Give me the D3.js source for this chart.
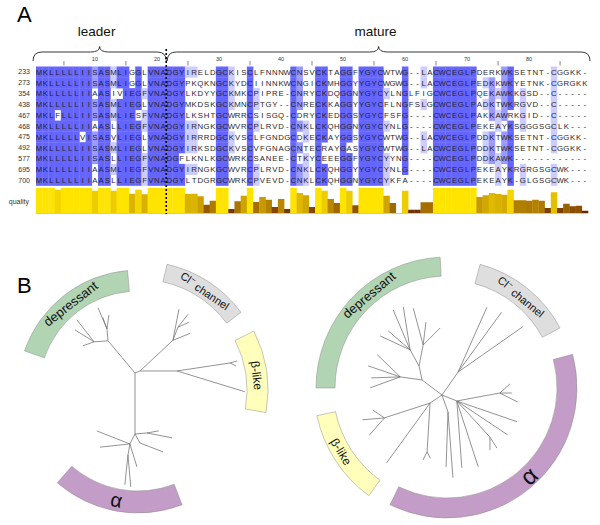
<!DOCTYPE html>
<html><head><meta charset="utf-8">
<script src="https://cdn.jsdelivr.net/npm/d3@7"></script>
<style>body{margin:0;background:#fff}svg{display:block;font-family:"Liberation Sans",Arial,Helvetica,sans-serif}</style>
</head><body><svg id="c" width="600" height="525"></svg>
<script>
// ---------------- DATA ----------------
const seqNames = ["233","273","354","438","467","468","475","492","577","695","700"];
const leaderSeqs = [
 "MKLLLLLIISASMLIGGLVNA","MKLLLLLIISASMLIGGLVNA","MKLLLLLIIAASIVIEGFVNA","MKLLLLLIISASMLIEGLVNA",
 "MKLFLLLIISASMLIESFVNA","MKLLLLLIIAASLLIEGFVNA","MKLLLLLVISASVLIEGLVNA","MKLLLLLIISASMLIEGLVNA",
 "MKLLLLLIISASLLIEGFVNA","MKLLLLLIIAASMLIEGFVNA","MKLLLLLIIAASLLIEGFVNA"];
const matureSeqs = [
 "DGYIRELDGCKISCLFNNNWCNSVCKTAGGFYGYCWTWG--LACWCEGLPDERKWKSETNT-CGGKK-",
 "DGYPKQKNGCKYDCIINNKWCNGICKMHGGYYGYCWGWG--LACWCEGLPEDKKWKYETNK-CGRGKK",
 "DGYLKDYYGCKMKCPIPRE-CNRYCKDQGGNYGYCYLNGLFIGCWCEGLPQEKAWKKGSD--C-----",
 "DGYMKDSKGCKMNCPTGY--CNRECKKAGGYYGYCFLNGFSLGCWCEGLPADKTWKRGVD--C-----",
 "DGYLKSHTGCWRRCSISGQ-CDRYCKEDGGSYGYCFSFG----CWCEGLPAKKAWRKGID--C-----",
 "DGYIRNGKGCWVRCPLRVD-CNKLCKQHGGNYGYCYNLG----CWCEGLPEKEAYKSGGGSGCLK---",
 "DGYIRRRDGCKVSCLFGNDGCDKECKAYGGSYGYCWTWG--LACWCEGLPDDKTWKSETNT-CGGKK-",
 "DGYIRKSDGCKVSCVFGNAGCNTECRAYGASYGYCWTWG--LACWCEGLPDDKTWKSETNT-CGGKK-",
 "DGFLKNLKGCWRKCSANEE-CTKYCEEEGGFYGYCYYNG----CWCEGLPDDKAWK------------",
 "DGYIRNGKGCWVRCPLRVD-CNKLCKQHGGYYGYCYNLG----CWCEGLPEKEAYKRGRGSGCWK---",
 "DGYLTDGRGCWRKCPVEVD-CNKLCKQHGGNYGYCYKFA----CWCEGLPEKEAYK-GLGSGCWK---"];
const rulerLabels = [10,20,30,40,50,60,70,80];
const rulerTicks = [5,15,25,35,45,55,65,75,85];
const quality = [1,1,1,0.93,1,1,1,1,1,0.89,1,1,0.89,1,1,0.77,0.93,0.75,1,1,
 1,1,1,1,0.76,0.77,0.67,0.33,0.49,1,1,0.16,0.47,0.69,1,0.44,0.64,0.53,0.24,0.56,
 0.16,1,0.8,0.71,0.24,1,0.89,0.56,0.4,1,0.89,0.31,1,1,1,1,0.69,0.4,0,0.89,
 0.13,0.13,0.43,0.43,1,1,1,1,1,1,1,0.64,0.71,0.8,0.76,0.73,0.93,0.51,0.51,0.49,
 0.53,0.49,0.2,0.83,0.2,0.37,0.27,0.29,0.09];
const pidThresholds = [40,60,80];
const pidColors = ["#ffffff","#ccccff","#9999ff","#6464ff"];
const pidLevelOverride = {84:1};

// trees: [direction (deg), branch length, children]
const leftTree = [0,0,[
  [-130,42,[
    [-95,12,[[-113,23],[-82,14],[-110,12]]],
    [176,14,[[-128,28],[-148,22.5],[160,12]]]
  ]],
  [-22,5.4,[
    [-43,45,[[-79,31.6],[-69,14,[[-52,16.4],[-24,12]]],[-22,18.4]]],
    [0,37,[[-8.6,53.6,[[-16,7.3],[27,6.7]]],[17,71]]]
  ]],
  [90,61,[
    [-5,12,[[-10,12],[11,25.5]]],
    [61,10.3,[[21,24.7]]],
    [117,11.2,[[-158.5,35.5],[174,30],[100,11.2,[[96,30],[85,32]]],[73,24]]]
  ]]
]];
const rightTree = [0,0,[
  [-143,25,[
    [-172,22,[[160,32],[178,29],[-161,34],[-136,32]]],
    [-102,14.3,[
      [-119,18.4,[[-113,43.5],[-99,43.6],[-155,33],[-139,29]]],
      [-79,21.4,[[-83,23],[-45,24],[-105,38]]]
    ]]
  ]],
  [-55,28,[[-66,71],[-54,74],[-35,79]]],
  [146,14.4,[[126,74],[162,48,[[175,22],[131,23],[-146,14]]],[93.5,49,[[117,9],[63,7]]]]],
  [22,16,[[-10.5,43.7,[[-42,13.5],[26.6,20],[0,12]]],[19,63.5],[33.7,61],[47.5,49,[[57.5,13],[90,13]]],[72,69],[85.7,67]]],
  [70.5,18,[[85.7,66],[92,55]]]
]];

const leftClades = [
  {name:"depressant", a0:-71, a1:-5,  r0:99,  r1:120, fill:"#b1d4b3", la:-38, fs:13, flip:false},
  {name:"Cl channel", a0:13,  a1:53,  r0:111, r1:129, fill:"#dedede", la:34,  fs:11, flip:false},
  {name:"β-like",     a0:63,  a1:100, r0:109, r1:130, fill:"#ffffbb", la:83,  fs:12, flip:false},
  {name:"α",          a0:159, a1:221, r0:101, r1:123, fill:"#c39cc8", la:191, fs:20, flip:true}
];
const rightClades = [
  {name:"depressant", a0:-90, a1:-3,  r0:112, r1:131, fill:"#b1d4b3", la:-40, fs:13, flip:false},
  {name:"Cl channel", a0:15,  a1:62,  r0:108, r1:128, fill:"#dedede", la:39,  fs:11, flip:false},
  {name:"α",          a0:75,  a1:206, r0:110, r1:130, fill:"#c39cc8", la:137, fs:24, flip:true},
  {name:"β-like",     a0:216, a1:258, r0:114, r1:133, fill:"#ffffbb", la:239, fs:12, flip:true}
];

// ---------------- DRAW ----------------
const svg = d3.select("#c");
const seqs = leaderSeqs.map((l,i)=>l+matureSeqs[i]);
const nCols = seqs[0].length;
const nLeader = leaderSeqs[0].length;
const x = d3.scaleLinear().domain([0,nCols]).range([36,588]);
const cw = x(1)-x(0);
const y = d3.scaleBand().domain(seqNames).range([66.5,185.5]);

svg.append("text").attr("x",17).attr("y",22).attr("font-size",22).text("A");
svg.append("text").attr("x",17).attr("y",293).attr("font-size",22).text("B");

// PID colouring
const colInfo = d3.range(nCols).map(j=>{
  const counts = d3.rollup(seqs.map(s=>s[j]).filter(c=>c!=="-"), v=>v.length, c=>c);
  let best=null,bc=0; counts.forEach((v,k)=>{if(v>bc){bc=v;best=k;}});
  const pct = bc/seqs.length*100;
  let lvl = pct>pidThresholds[2]?3:pct>pidThresholds[1]?2:pct>pidThresholds[0]?1:0;
  if(pidLevelOverride[j+1]!==undefined) lvl = pidLevelOverride[j+1];
  return {cons:best,lvl};
});
const cells=[];
seqs.forEach((s,i)=>{for(let j=0;j<nCols;j++){cells.push({name:seqNames[i],j,ch:s[j],
  lvl:(s[j]===colInfo[j].cons)?colInfo[j].lvl:0});}});

const gA = svg.append("g");
gA.selectAll("rect.cell").data(cells.filter(d=>d.lvl>0)).join("rect")
  .attr("x",d=>x(d.j)).attr("y",d=>y(d.name)).attr("width",cw+0.3).attr("height",y.bandwidth()+0.3)
  .attr("fill",d=>pidColors[d.lvl]);
gA.selectAll("text.res").data(cells).join("text")
  .attr("x",d=>x(d.j)+cw/2).attr("y",d=>y(d.name)+y.bandwidth()/2+2.9)
  .attr("text-anchor","middle").attr("font-size",7.8).attr("fill","#26262e").text(d=>d.ch);
gA.selectAll("text.nm").data(seqNames).join("text")
  .attr("x",30).attr("y",d=>y(d)+y.bandwidth()/2+2.5).attr("text-anchor","end")
  .attr("font-size",7).attr("fill","#333").text(d=>d);

// ruler
gA.selectAll("text.rl").data(rulerLabels).join("text")
  .attr("x",d=>x(d-0.5)).attr("y",61).attr("text-anchor","middle").attr("font-size",5.5).attr("fill","#333").text(d=>d);
gA.selectAll("line.rt").data(rulerTicks).join("line")
  .attr("x1",d=>x(d-0.5)).attr("x2",d=>x(d-0.5)).attr("y1",61).attr("y2",65.5).attr("stroke","#555").attr("stroke-width",0.7);

// quality
const qy = d3.scaleLinear().domain([0,1]).range([213,188]);
const qc = d3.scaleLinear().domain([0,0.5,1]).range(["#5c1600","#b07c00","#ffe400"]).interpolate(d3.interpolateRgb);
gA.selectAll("rect.q").data(quality).join("rect")
  .attr("x",(d,j)=>x(j)).attr("width",cw+0.3).attr("y",d=>qy(d)).attr("height",d=>qy(0)-qy(d)).attr("fill",d=>qc(d));
gA.append("line").attr("x1",x(0)).attr("x2",x(nCols)).attr("y1",213.5).attr("y2",213.5).attr("stroke","#c8c8c8");
gA.append("text").attr("x",29).attr("y",204).attr("text-anchor","end").attr("font-size",7).attr("fill","#333").text("quality");

// braces
function brace(x1,x2,yEnd,yLine,yTip){
  const m=(x1+x2)/2, r=9;
  return `M${x1},${yEnd} Q${x1},${yLine} ${x1+r},${yLine} L${m-r},${yLine} Q${m},${yLine} ${m},${yTip} Q${m},${yLine} ${m+r},${yLine} L${x2-r},${yLine} Q${x2},${yLine} ${x2},${yEnd}`;
}
const braces=[{label:"leader",x1:x(0)-3,x2:x(nLeader)},{label:"mature",x1:x(nLeader)+1,x2:x(nCols)+2}];
braces.forEach(b=>{
  gA.append("path").attr("d",brace(b.x1,b.x2,61,52,46.5)).attr("fill","none").attr("stroke","#222").attr("stroke-width",0.9);
  gA.append("text").attr("x",(b.x1+b.x2)/2-3).attr("y",36).attr("text-anchor","middle").attr("font-size",13.5).attr("fill","#111").text(b.label);
});
gA.append("line").attr("x1",x(nLeader)).attr("x2",x(nLeader)).attr("y1",49).attr("y2",214)
  .attr("stroke","#000").attr("stroke-width",1.6).attr("stroke-dasharray","2,2");

// trees
const rad = Math.PI/180;
function drawArcs(cx,cy,clades){
  const g = svg.append("g").attr("transform",`translate(${cx},${cy})`);
  const arc = d3.arc();
  g.selectAll("path.cl").data(clades).join("path")
    .attr("d",d=>arc({innerRadius:d.r0,outerRadius:d.r1,startAngle:d.a0*rad,endAngle:d.a1*rad}))
    .attr("fill",d=>d.fill).attr("stroke","#8c8c8c").attr("stroke-width",0.5);
  clades.forEach(d=>{
    const r=(d.r0+d.r1)/2, a=d.la*rad;
    const px=r*Math.sin(a), py=-r*Math.cos(a);
    const rot = d.flip? d.la-180 : d.la;
    const t = g.append("text").attr("transform",`translate(${px},${py}) rotate(${rot})`)
      .attr("text-anchor","middle").attr("dy","0.35em").attr("font-size",d.fs).attr("fill","#111");
    if(d.name.startsWith("Cl ")){
      t.append("tspan").text("Cl");
      t.append("tspan").attr("font-size",d.fs*0.75).attr("dy","-0.45em").text("−");
      t.append("tspan").attr("dy","0.45em").text(" channel");
    } else t.text(d.name);
  });
}
function drawTree(data, cx, cy){
  const g = svg.append("g").attr("transform",`translate(${cx},${cy})`);
  const root = d3.hierarchy(data, d=>d[2]);
  const len = d3.scaleLinear().domain([0,1]).range([0,1]);
  root.each(n=>{
    if(!n.parent){n.px=0;n.py=0;return;}
    const a=n.data[0]*rad, l=len(n.data[1]);
    n.px=n.parent.px+l*Math.cos(a); n.py=n.parent.py+l*Math.sin(a);
  });
  g.selectAll("line.br").data(root.descendants().filter(n=>n.parent)).join("line")
    .attr("x1",n=>n.parent.px).attr("y1",n=>n.parent.py).attr("x2",n=>n.px).attr("y2",n=>n.py)
    .attr("stroke","#6f6f6f").attr("stroke-width",0.75);
}
const leftArcCenter=[138,390], rightArcCenter=[447,388];
const leftRoot=[135,373], rightRoot=[442,395];
drawTree(leftTree, leftRoot[0], leftRoot[1]);
drawTree(rightTree, rightRoot[0], rightRoot[1]);
drawArcs(leftArcCenter[0],leftArcCenter[1],leftClades);
drawArcs(rightArcCenter[0],rightArcCenter[1],rightClades);
</script></body></html>
